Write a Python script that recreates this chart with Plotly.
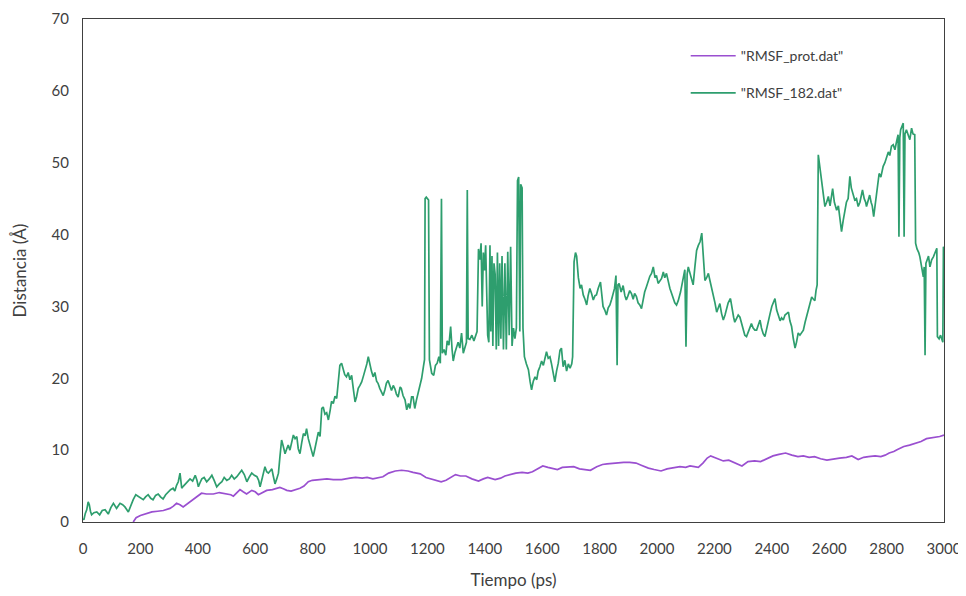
import plotly.graph_objects as go

# ---------------- data ----------------
prot_time = [175, 185, 200, 222, 240, 260, 280, 303, 315, 326, 338, 349, 365, 384, 400, 413, 430, 454, 475, 500,
             515, 524, 535, 547, 558, 570, 588, 600, 611, 625, 640, 660, 686, 700, 710, 725, 744, 756, 770, 785,
             799, 820, 850, 872, 901, 930, 950, 973, 990, 1010, 1025, 1045, 1065, 1088, 1110, 1132, 1150, 1175, 1195, 1220,
             1248, 1265, 1282, 1298, 1315, 1334, 1355, 1378, 1395, 1410, 1436, 1455, 1470, 1490, 1508, 1530, 1550, 1566, 1585, 1602,
             1620, 1640, 1653, 1670, 1690, 1710, 1730, 1750, 1768, 1790, 1810, 1826, 1850, 1870, 1884, 1905, 1927, 1945, 1970, 1990,
             2014, 2035, 2057, 2080, 2100, 2115, 2130, 2144, 2160, 2175, 2187, 2200, 2215, 2231, 2250, 2274, 2285, 2296, 2317, 2340,
             2361, 2380, 2404, 2425, 2448, 2470, 2491, 2510, 2530, 2549, 2570, 2592, 2615, 2636, 2660, 2679, 2701, 2720, 2737, 2760,
             2780, 2795, 2809, 2825, 2838, 2860, 2880, 2896, 2920, 2939, 2955, 2968, 2985, 3000]
prot_dist = [0.0, 0.6, 0.9, 1.2, 1.4, 1.5, 1.6, 1.9, 2.2, 2.6, 2.4, 2.1, 2.6, 3.2, 3.7, 4.0, 3.9, 3.9, 4.1, 3.9,
             3.8, 3.6, 4.1, 4.5, 4.2, 3.9, 4.4, 4.2, 3.8, 4.1, 4.4, 4.5, 4.8, 4.6, 4.4, 4.3, 4.5, 4.7, 5.0, 5.6,
             5.8, 5.9, 6.0, 5.9, 5.9, 6.1, 6.2, 6.1, 6.2, 6.0, 6.1, 6.3, 6.8, 7.1, 7.2, 7.1, 6.9, 6.7, 6.2, 5.9,
             5.6, 5.8, 6.2, 6.6, 6.4, 6.4, 6.0, 5.7, 6.0, 6.2, 5.9, 6.1, 6.4, 6.6, 6.8, 6.9, 6.8, 7.0, 7.4, 7.8,
             7.6, 7.4, 7.3, 7.6, 7.7, 7.7, 7.4, 7.3, 7.2, 7.7, 8.0, 8.1, 8.2, 8.3, 8.3, 8.3, 8.2, 7.9, 7.5, 7.3,
             7.1, 7.4, 7.5, 7.7, 7.6, 7.8, 7.7, 7.6, 8.2, 8.9, 9.2, 9.0, 8.8, 8.5, 8.6, 8.2, 8.0, 7.8, 8.4, 8.5,
             8.4, 8.8, 9.2, 9.4, 9.6, 9.3, 9.1, 9.2, 9.0, 9.1, 8.8, 8.6, 8.8, 8.9, 9.0, 9.2, 8.7, 9.0, 9.1, 9.2,
             9.1, 9.3, 9.6, 9.8, 10.1, 10.5, 10.7, 10.9, 11.2, 11.6, 11.7, 11.8, 11.9, 12.1]

lig_time = [0, 3, 8, 13, 18, 22, 26, 30, 38, 48, 58, 67, 77, 88, 97, 106, 117, 129, 138, 146,
            158, 167, 175, 184, 192, 200, 210, 218, 227, 236, 244, 253, 262, 270, 279, 288, 297, 305, 314, 320,
            326, 332, 338, 344, 350, 356, 364, 373, 382, 391, 397, 402, 408, 414, 422, 431, 440, 449, 457, 466,
            475, 484, 492, 501, 510, 518, 527, 536, 545, 553, 562, 571, 580, 588, 597, 606, 612, 617, 625, 634,
            640, 646, 652, 658, 663, 669, 675, 681, 686, 692, 698, 704, 710, 715, 721, 727, 733, 739, 745, 750,
            756, 762, 768, 774, 779, 785, 792, 797, 802, 808, 814, 820, 826, 832, 837, 843, 849, 855, 861, 866,
            872, 878, 884, 890, 895, 901, 906, 912, 918, 924, 930, 936, 942, 948, 953, 959, 965, 971, 977, 983,
            989, 994, 1000, 1005, 1011, 1017, 1023, 1028, 1034, 1040, 1046, 1052, 1057, 1063, 1069, 1075, 1081, 1087, 1092, 1098,
            1105, 1109, 1115, 1122, 1128, 1134, 1139, 1145, 1150, 1156, 1162, 1168, 1174, 1180, 1186, 1190, 1192, 1196, 1200, 1204,
            1207, 1211, 1215, 1222, 1228, 1234, 1240, 1245, 1249, 1252, 1258, 1264, 1269, 1275, 1281, 1286, 1290, 1296, 1302, 1307,
            1313, 1319, 1325, 1331, 1336, 1339, 1342, 1348, 1355, 1362, 1368, 1373, 1378, 1383, 1387, 1391, 1395, 1399, 1403, 1407,
            1410, 1414, 1418, 1421, 1425, 1428, 1432, 1436, 1440, 1444, 1448, 1452, 1456, 1460, 1465, 1470, 1475, 1480, 1485, 1490,
            1495, 1500, 1505, 1510, 1514, 1518, 1522, 1525, 1530, 1533, 1538, 1545, 1552, 1558, 1563, 1569, 1575, 1581, 1586, 1592,
            1598, 1604, 1610, 1615, 1621, 1627, 1632, 1638, 1644, 1650, 1656, 1662, 1667, 1673, 1679, 1685, 1691, 1697, 1703, 1706,
            1711, 1716, 1720, 1726, 1732, 1737, 1743, 1749, 1755, 1760, 1766, 1772, 1778, 1784, 1789, 1795, 1803, 1808, 1812, 1818,
            1824, 1830, 1836, 1842, 1847, 1852, 1857, 1861, 1864, 1868, 1875, 1882, 1888, 1893, 1899, 1905, 1911, 1917, 1922, 1928,
            1934, 1940, 1946, 1951, 1957, 1963, 1969, 1975, 1981, 1987, 1993, 1998, 2004, 2010, 2016, 2022, 2027, 2033, 2039, 2045,
            2051, 2057, 2062, 2068, 2074, 2082, 2090, 2097, 2101, 2105, 2109, 2115, 2121, 2126, 2132, 2138, 2144, 2150, 2156, 2161,
            2167, 2173, 2179, 2185, 2191, 2196, 2202, 2208, 2214, 2219, 2225, 2231, 2237, 2242, 2248, 2256, 2262, 2267, 2271, 2277,
            2283, 2289, 2295, 2301, 2306, 2312, 2318, 2324, 2329, 2335, 2341, 2347, 2353, 2359, 2364, 2370, 2376, 2382, 2388, 2394,
            2400, 2405, 2411, 2417, 2423, 2429, 2434, 2440, 2446, 2452, 2458, 2463, 2469, 2475, 2481, 2486, 2492, 2498, 2504, 2510,
            2516, 2521, 2527, 2533, 2539, 2545, 2550, 2554, 2558, 2562, 2567, 2574, 2580, 2585, 2591, 2597, 2603, 2608, 2612, 2618,
            2626, 2632, 2638, 2643, 2649, 2655, 2660, 2666, 2669, 2672, 2677, 2683, 2689, 2695, 2701, 2707, 2712, 2716, 2722, 2727,
            2730, 2735, 2741, 2746, 2750, 2755, 2760, 2765, 2770, 2774, 2780, 2788, 2794, 2800, 2806, 2811, 2817, 2823, 2829, 2835,
            2840, 2843, 2846, 2849, 2853, 2858, 2861, 2864, 2869, 2875, 2881, 2887, 2892, 2898, 2901, 2906, 2912, 2916, 2922, 2928,
            2931, 2934, 2937, 2940, 2946, 2951, 2957, 2963, 2969, 2975, 2977, 2983, 2988, 2992, 2996, 2998, 3000]
lig_dist = [0.5, 0.3, 1.2, 1.7, 2.8, 2.4, 1.5, 1.0, 1.3, 1.4, 1.0, 1.6, 1.7, 1.1, 2.0, 2.6, 1.9, 2.6, 2.4, 2.1,
            1.4, 2.4, 3.1, 3.8, 3.6, 3.4, 3.1, 3.5, 3.8, 3.3, 3.1, 3.7, 3.9, 3.5, 3.2, 3.8, 4.2, 4.5, 4.7, 4.3,
            5.1, 5.6, 6.8, 4.7, 5.0, 5.3, 5.7, 6.0, 5.7, 6.5, 5.8, 4.9, 5.5, 6.0, 6.2, 5.6, 6.0, 6.5, 5.8, 4.9,
            5.3, 5.6, 6.2, 5.8, 6.0, 6.5, 6.0, 6.3, 6.8, 7.2, 6.6, 5.6, 6.3, 6.8, 6.5, 6.3, 5.8, 4.9, 6.2, 7.7,
            7.0, 6.8, 7.1, 7.4, 6.4, 5.3, 6.0, 6.8, 9.0, 11.4, 10.5, 9.5, 10.2, 10.7, 10.0, 11.2, 12.1, 11.6, 11.9, 10.2,
            9.5, 11.0, 12.3, 12.0, 13.0, 11.6, 10.5, 9.8, 9.1, 10.2, 11.2, 12.5, 11.9, 15.8, 16.0, 15.0, 15.2, 14.2, 15.5, 16.8,
            16.5, 17.5, 17.2, 19.5, 21.8, 22.1, 21.2, 20.5, 20.2, 20.8, 19.8, 20.4, 18.5, 16.7, 17.4, 18.6, 19.0, 19.5, 20.3, 21.0,
            22.0, 23.0, 21.8, 21.0, 20.2, 20.8, 19.6, 19.3, 18.6, 18.2, 17.6, 18.4, 19.3, 19.7, 18.9, 18.3, 19.0, 18.5, 17.8, 17.4,
            18.8, 18.6, 17.6, 17.0, 15.6, 16.5, 15.8, 17.4, 17.4, 15.8, 17.0, 18.0, 19.0, 20.0, 21.6, 22.6, 45.0, 45.2, 45.0, 44.8,
            22.6, 21.5, 20.7, 20.4, 21.8, 22.1, 23.0, 22.1, 45.0, 23.5, 24.0, 23.2, 25.2, 24.6, 27.2, 24.0, 22.4, 23.6, 24.5, 25.0,
            24.2, 26.3, 23.5, 24.5, 25.0, 46.2, 25.5, 25.4, 26.0, 25.2, 25.8, 26.5, 38.0, 36.5, 38.8, 30.0, 37.5, 35.0, 38.5, 32.0,
            26.0, 25.0, 38.5, 26.5, 37.0, 24.5, 36.0, 34.5, 24.0, 37.5, 24.5, 36.0, 25.5, 37.0, 24.0, 36.0, 24.0, 37.6, 26.0, 38.3,
            24.5, 27.0, 25.5, 27.0, 47.5, 48.0, 26.5, 47.0, 46.5, 27.0, 23.0, 22.0, 21.2, 19.5, 18.4, 19.6, 20.2, 19.8, 21.0, 21.6,
            22.4, 21.8, 23.0, 23.7, 22.8, 23.0, 22.1, 21.0, 19.5, 21.0, 22.1, 23.9, 24.2, 21.6, 22.5, 21.0, 22.0, 21.4, 22.0, 23.0,
            36.2, 37.5, 37.0, 34.0, 32.5, 33.0, 31.6, 31.0, 30.2, 31.5, 32.5, 31.8, 30.9, 31.5, 31.6, 32.5, 33.4, 31.5, 30.0, 29.5,
            28.8, 29.8, 30.2, 31.0, 31.6, 32.5, 34.3, 21.8, 33.0, 33.2, 32.0, 32.9, 31.5, 30.9, 31.5, 32.2, 31.8, 31.0, 31.8, 31.4,
            30.5, 30.2, 29.7, 30.8, 32.0, 32.7, 33.5, 34.2, 34.6, 35.5, 34.0, 34.3, 33.2, 33.5, 33.9, 34.8, 34.0, 34.6, 33.5, 32.5,
            31.8, 31.0, 30.5, 30.2, 30.8, 32.0, 33.5, 35.1, 24.4, 34.5, 35.5, 34.5, 33.9, 33.0, 35.5, 37.8, 38.5, 39.0, 40.2, 36.5,
            33.6, 34.0, 34.6, 33.5, 32.5, 31.8, 30.5, 29.2, 30.0, 30.4, 29.0, 28.1, 28.8, 29.7, 30.5, 31.1, 29.5, 28.5, 27.8, 28.2,
            28.8, 28.5, 27.5, 26.7, 26.0, 25.8, 26.5, 27.2, 27.6, 27.0, 26.7, 26.7, 27.5, 28.1, 27.0, 26.2, 25.8, 27.0, 28.0, 29.0,
            30.0, 30.5, 31.1, 29.5, 28.6, 28.0, 28.4, 28.1, 28.8, 29.0, 29.2, 28.0, 27.2, 25.5, 24.2, 25.0, 26.3, 26.0, 26.4, 26.7,
            27.8, 28.6, 29.5, 30.5, 31.3, 31.0, 30.8, 32.2, 33.0, 51.1, 49.5, 47.6, 45.0, 43.9, 44.5, 45.3, 44.0, 45.2, 46.4, 44.5,
            43.4, 44.0, 42.0, 40.4, 42.0, 43.4, 44.5, 45.0, 47.0, 48.1, 46.5, 45.5, 44.8, 45.0, 43.9, 44.5, 45.5, 46.2, 45.0, 44.5,
            43.9, 44.8, 45.5, 44.5, 44.0, 42.5, 44.0, 45.7, 47.0, 48.5, 48.0, 49.5, 50.0, 50.9, 51.5, 51.0, 52.3, 52.5, 51.8, 53.0,
            53.9, 39.7, 53.5, 54.6, 55.0, 55.5, 39.7, 54.0, 54.6, 54.0, 53.2, 54.8, 54.0, 53.9, 38.8, 38.0, 37.5, 36.9, 35.5, 34.1,
            35.5, 23.2, 36.0, 36.4, 37.0, 35.5, 36.5, 36.9, 37.5, 38.1, 25.8, 25.5, 26.0, 25.4, 25.0, 38.3, 38.0]

series_names = ['"RMSF_prot.dat"', '"RMSF_182.dat"']
x_ticks = list(range(0, 3001, 200))
y_ticks = list(range(0, 71, 10))

# ---------------- figure ----------------
FONT = "Lato, 'Open Sans', sans-serif"
TXT = "#404040"

fig = go.Figure()
fig.add_trace(go.Scatter(x=prot_time, y=prot_dist, mode="lines", name=series_names[0],
                         legendgroup="a",
                         line=dict(color="#9a4fd0", width=1.7)))
fig.add_trace(go.Scatter(x=lig_time, y=lig_dist, mode="lines", name=series_names[1],
                         legendgroup="b",
                         line=dict(color="#2e9e6e", width=1.7)))

# the page body adds an 8 px offset, so the figure is sized to the visible area
fig.update_layout(
    width=958, height=588,
    margin=dict(l=75, r=22, t=11, b=74),
    paper_bgcolor="white", plot_bgcolor="white",
    font=dict(family=FONT, size=14, color=TXT),
    showlegend=True,
    legend=dict(x=0.70, y=0.958, xanchor="left", yanchor="top",
                bgcolor="rgba(0,0,0,0)", borderwidth=0,
                tracegroupgap=16, itemwidth=45,
                font=dict(family=FONT, size=14, color=TXT)),
    xaxis=dict(range=[0, 3000], tickvals=x_ticks, ticktext=[str(v) for v in x_ticks],
               showgrid=False, zeroline=False, automargin=False,
               showline=True, linecolor="#404040", linewidth=1.2, mirror=True,
               ticks="", ticklabelstandoff=13, tickfont=dict(size=15, color=TXT),
               title=dict(text="Tiempo (ps)", font=dict(size=17, color=TXT), standoff=18)),
    yaxis=dict(range=[0, 70], tickvals=y_ticks, ticktext=[str(v) for v in y_ticks],
               showgrid=False, zeroline=False, automargin=False,
               showline=True, linecolor="#404040", linewidth=1.2, mirror=True,
               ticks="", ticklabelstandoff=10, tickfont=dict(size=15, color=TXT),
               title=dict(text="Distancia (Å)", font=dict(size=17, color=TXT), standoff=20)),
)

fig.write_html("out.html")
